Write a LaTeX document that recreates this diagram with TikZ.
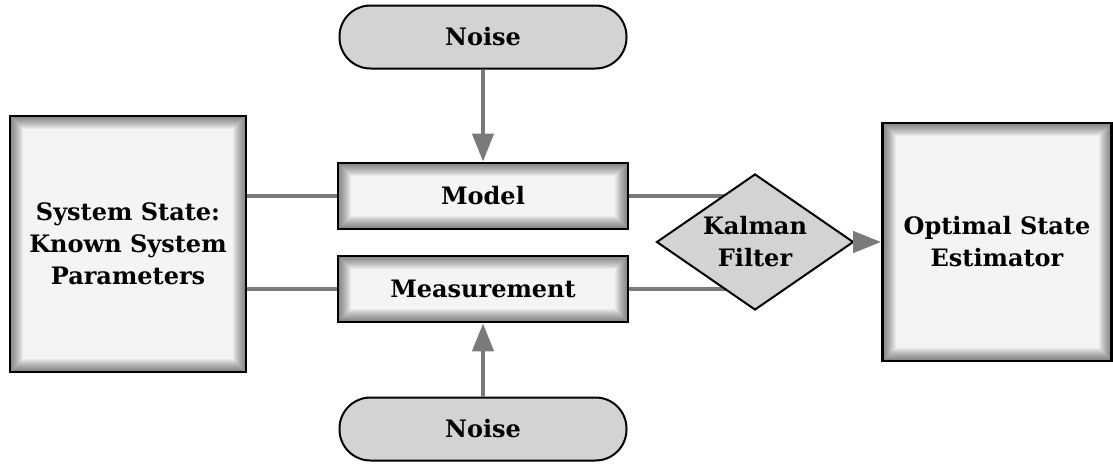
\documentclass[tikz,border=0pt]{standalone}
\usepackage{fontspec}
\setmainfont{DejaVu Serif}
\usetikzlibrary{shapes.geometric,arrows.meta,backgrounds}
\definecolor{boxfill}{HTML}{F4F4F4}
\definecolor{pillfill}{HTML}{D3D3D3}
\definecolor{linkgray}{HTML}{7A7A7A}

\begin{document}
\begin{tikzpicture}[x=1pt, y=-1pt,
  every node/.style={font=\bfseries\fontsize{24}{32}\selectfont, align=center, inner sep=0pt},
  box/.style={draw=black, line width=2.8pt, fill=boxfill,
    path picture={\foreach \w in {2,4,...,26}
      \draw[black, opacity=0.045, line width=\w pt] (path picture bounding box.south west) rectangle (path picture bounding box.north east);}},
  noise/.style={draw=black, line width=2pt, fill=pillfill, rounded corners=31pt, minimum width=287pt, minimum height=63pt},
  link/.style={linkgray, line width=4.5pt},
  arrow/.style={link, -{Triangle[width=21pt,length=28pt]}}]
\useasboundingbox (0,0) rectangle (1113,463);
\node[box, minimum width=236pt, minimum height=256pt] (system) at (128,244) {System State:\\Known System\\Parameters};
\node[box, minimum width=290pt, minimum height=66pt] (model) at (483,196) {Model};
\node[box, minimum width=290pt, minimum height=66pt] (measure) at (483,289) {Measurement};
\node[noise] (noisetop) at (483,37) {Noise};
\node[noise] (noisebot) at (483,429) {Noise};
\node[draw=black, line width=2pt, fill=pillfill, diamond, aspect=1.45, minimum width=197pt, minimum height=136pt] (kalman) at (755,242) {Kalman\\Filter};
\node[box, minimum width=229pt, minimum height=238pt] (estimator) at (997,242) {Optimal State\\Estimator};
\begin{scope}[on background layer]
\draw[link] (system.east |- model.west) -- (model.west);
\draw[link] (system.east |- measure.west) -- (measure.west);
\draw[link] (model.east) -- (kalman.center |- model.east);
\draw[link] (measure.east) -- (kalman.center |- measure.east);
\end{scope}
\draw[arrow] (noisetop) -- (model);
\draw[arrow] (noisebot) -- (measure);
\draw[arrow] (kalman.east) -- (estimator.west);
\end{tikzpicture}
\end{document}
